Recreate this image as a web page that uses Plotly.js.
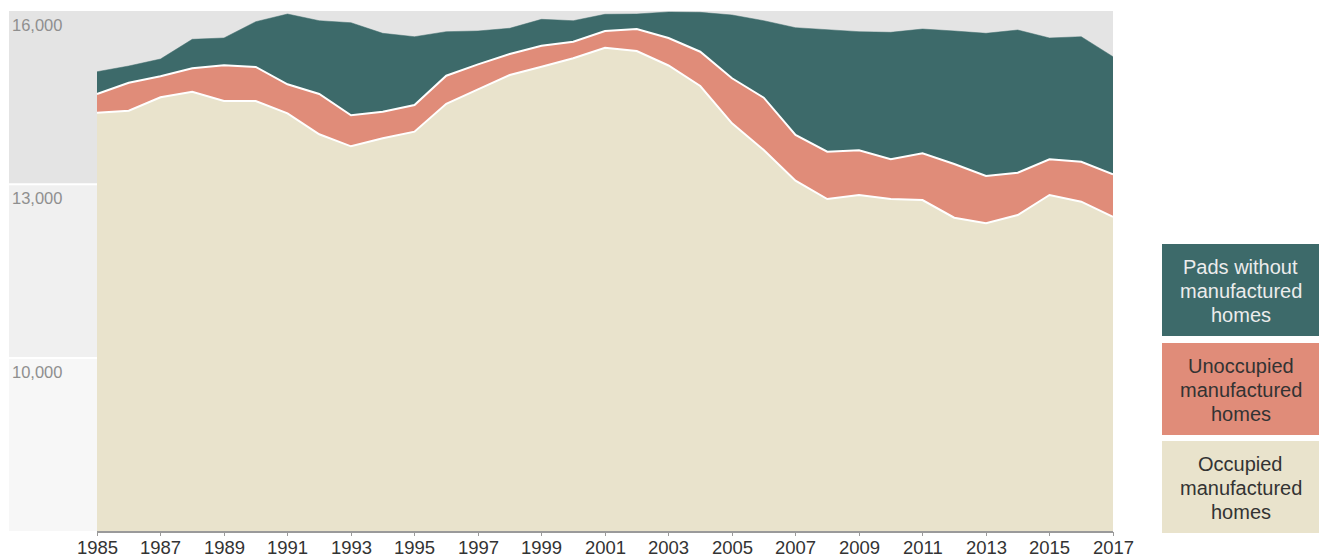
<!DOCTYPE html>
<html>
<head>
<meta charset="utf-8">
<script src="https://cdn.plot.ly/plotly-3.0.1.min.js"></script>
<style>html,body{margin:0;padding:0;background:#fff;}#chart{width:1319px;height:558px;}</style>
</head>
<body>
<div id="chart"></div>
<script>
const years = [1985,1986,1987,1988,1989,1990,1991,1992,1993,1994,1995,1996,1997,1998,1999,2000,2001,2002,2003,2004,2005,2006,2007,2008,2009,2010,2011,2012,2013,2014,2015,2016,2017];
const occupied = [14240,14274,14506,14603,14442,14442,14229,13866,13658,13796,13911,14395,14645,14892,15036,15181,15365,15308,15057,14702,14056,13594,13063,12746,12815,12746,12728,12422,12325,12469,12815,12699,12439];
const unoccupied = [323,485,364,405,618,589,502,697,537,461,462,485,432,364,363,288,289,380,476,593,779,905,791,818,774,687,809,930,819,732,618,692,734];
const padsWithout = [386,289,299,502,473,784,1217,1269,1602,1357,1182,762,577,445,457,363,289,260,450,682,1096,1333,1857,2107,2053,2198,2151,2302,2470,2470,2100,2164,2036];
const tickYears = [1985,1987,1989,1991,1993,1995,1997,1999,2001,2003,2005,2007,2009,2011,2013,2015,2017];
const yLabels = [16000,13000,10000];
const legendItems = [
  {lines:["Pads without","manufactured","homes"], fill:"#3d6a6a", text:"#ececec"},
  {lines:["Unoccupied","manufactured","homes"], fill:"#e08c79", text:"#333333"},
  {lines:["Occupied","manufactured","homes"], fill:"#e9e3cc", text:"#333333"}
];

const W = 1319, H = 558;
const L = 9, R = 1113, T = 11, B = 531;
const pw = R - L, ph = B - T;
const px2x = x => (x - L) / pw;
const px2y = y => (B - y) / ph;
const FONT = '"Liberation Sans", Arial, sans-serif';

const traces = [
  {x: years, y: occupied, name: 'Occupied manufactured homes', type: 'scatter', mode: 'lines', stackgroup: 'one',
   fillcolor: '#e9e3cc', line: {color: '#ffffff', width: 2}},
  {x: years, y: unoccupied, name: 'Unoccupied manufactured homes', type: 'scatter', mode: 'lines', stackgroup: 'one',
   fillcolor: '#e08c79', line: {color: '#ffffff', width: 2}},
  {x: years, y: padsWithout, name: 'Pads without manufactured homes', type: 'scatter', mode: 'lines', stackgroup: 'one',
   fillcolor: '#3d6a6a', line: {color: '#3d6a6a', width: 0.5}}
];

const shapes = [
  {type:'rect', xref:'paper', yref:'y', x0:0, x1:1, y0:13020, y1:16000, fillcolor:'#e4e4e4', line:{width:0}, layer:'below'},
  {type:'rect', xref:'paper', yref:'y', x0:0, x1:1, y0:10010, y1:12985, fillcolor:'#f0f0f0', line:{width:0}, layer:'below'},
  {type:'rect', xref:'paper', yref:'y', x0:0, x1:1, y0:7000, y1:9975, fillcolor:'#f7f7f7', line:{width:0}, layer:'below'},
  {type:'line', xref:'x', yref:'paper', x0:years[0], x1:years[years.length-1], y0:-0.002, y1:-0.002, line:{color:'#9a9a9a', width:2}, layer:'above'}
];

const annotations = [];
yLabels.forEach(v => {
  annotations.push({xref:'paper', yref:'y', x:0, y:v, xanchor:'left', yanchor:'top', xshift:1, yshift:-3,
    text: v.toLocaleString('en-US'), showarrow:false, font:{family:FONT, size:16.5, color:'#8f8f8f'}});
});
tickYears.forEach(yr => {
  annotations.push({xref:'x', yref:'paper', x:yr, y:0, xanchor:'center', yanchor:'top', yshift:-5, borderpad:0,
    text: String(yr), showarrow:false, font:{family:FONT, size:18.5, color:'#333333'}});
});

const boxTops = [244, 343, 441], boxH = 92, lineGap = 24;
legendItems.forEach((it, i) => {
  const top = boxTops[i], bot = top + boxH;
  shapes.push({type:'rect', xref:'paper', yref:'paper', x0:px2x(1162), x1:px2x(1319), y0:px2y(bot), y1:px2y(top),
    fillcolor: it.fill, line:{width:0}});
  const cy = (top + bot) / 2;
  it.lines.forEach((ln, j) => {
    const ly = cy + (j - 1) * lineGap + 1;
    annotations.push({xref:'paper', yref:'paper', x:px2x(1240.5), y:px2y(ly), xanchor:'center', yanchor:'middle',
      text: ln, showarrow:false, font:{family:FONT, size:20, color: it.text}});
  });
});

const layout = {
  width: W, height: H,
  margin: {l: L, r: W - R, t: T, b: H - B, pad: 0},
  paper_bgcolor: '#ffffff', plot_bgcolor: 'rgba(0,0,0,0)',
  showlegend: false,
  xaxis: {range: [1985 - (97 - L) / 31.75, 2017], tickvals: tickYears, showticklabels: false,
    showgrid: false, zeroline: false, showline: false, ticks: 'outside', ticklen: 4, tickwidth: 1, tickcolor: '#9a9a9a',
    fixedrange: true},
  yaxis: {range: [7000, 16000], showgrid: false, zeroline: false, showline: false, showticklabels: false, ticks: '', fixedrange: true},
  shapes: shapes,
  annotations: annotations,
  hovermode: false
};

Plotly.newPlot('chart', traces, layout, {staticPlot: true, displayModeBar: false});
</script>
</body>
</html>
